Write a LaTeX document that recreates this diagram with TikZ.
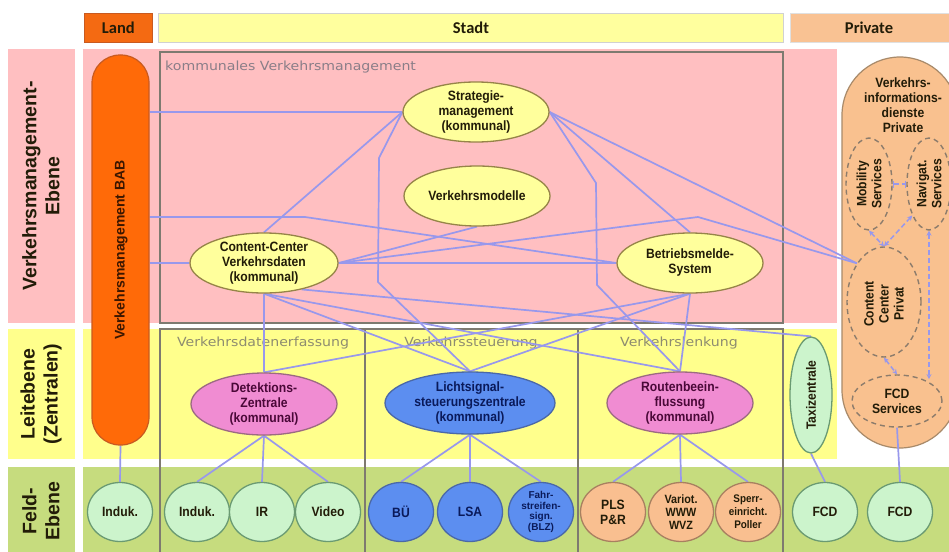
\documentclass[tikz,border=0pt]{standalone}
\usepackage{fontspec}
\setmainfont{Liberation Sans}
\newfontfamily\hdfont{Carlito}
\newfontfamily\nfont[FakeStretch=0.9]{Liberation Sans}
\newfontfamily\nwfont{Liberation Sans}
\newfontfamily\tfont[FakeStretch=1.12]{DejaVu Sans}
\usetikzlibrary{shapes.geometric,arrows.meta}
\pgfdeclarelayer{bg}
\pgfdeclarelayer{lines}
\pgfsetlayers{bg,lines,main}
\definecolor{pinkbg}{HTML}{FFBFC1}
\definecolor{yelbg}{HTML}{FFFF8C}
\definecolor{grnbg}{HTML}{C6DC7E}
\definecolor{landor}{HTML}{F46A12}
\definecolor{stadty}{HTML}{FFFF9E}
\definecolor{privp}{HTML}{F9C293}
\definecolor{babor}{HTML}{FF6A08}
\definecolor{babbd}{HTML}{C85A20}
\definecolor{ellyel}{HTML}{FFFF9C}
\definecolor{ellbd}{HTML}{968448}
\definecolor{ellpink}{HTML}{F08CD2}
\definecolor{pinkbd}{HTML}{9C6A82}
\definecolor{ellblue}{HTML}{5C8EF0}
\definecolor{bluebd}{HTML}{4A68A8}
\definecolor{cgreen}{HTML}{CCF4CC}
\definecolor{greenbd}{HTML}{6A9A72}
\definecolor{cpeach}{HTML}{F9BF90}
\definecolor{peachbd}{HTML}{A88060}
\definecolor{privfill}{HTML}{F9C18F}
\definecolor{privbd}{HTML}{A88A6A}
\definecolor{connc}{HTML}{9898EC}
\definecolor{boxbd}{HTML}{7E7A70}
\definecolor{ttlgray}{HTML}{8A7E88}
\definecolor{ttlolive}{HTML}{8E8C70}
\definecolor{dashbd}{HTML}{8C7C6C}
\definecolor{txtdark}{HTML}{221C08}
\definecolor{txtpink}{HTML}{4A0838}
\definecolor{txtblue}{HTML}{0A1A5A}
\definecolor{babtxt}{HTML}{3A1600}
\begin{document}
\begin{tikzpicture}[x=1pt,y=-1pt,
  conn/.style={draw=connc, line width=1.7pt},
  pconn/.style={draw=connc, line width=1.5pt, dash pattern=on 5pt off 3pt},
  hdr/.style={anchor=north west, inner sep=0pt, line width=0.8pt,
    font=\hdfont\bfseries\fontsize{16.5}{18}\selectfont, text=txtdark},
  colbox/.style={draw=boxbd, line width=1.8pt},
  ttl/.style={font=\tfont\fontsize{12.6}{14}\selectfont, text=ttlolive, inner sep=0pt},
  side/.style={rotate=90, align=center, inner sep=0pt,
    font=\nwfont\bfseries\fontsize{19.5}{23}\selectfont, text=txtdark},
  ellbase/.style={ellipse, line width=1.3pt, inner sep=0pt},
  yell/.style={ellbase, fill=ellyel, draw=ellbd, minimum width=146pt, minimum height=60pt},
  pell/.style={ellbase, fill=ellpink, draw=pinkbd, minimum width=146pt, minimum height=62pt},
  bell/.style={ellbase, fill=ellblue, draw=bluebd, minimum width=170pt, minimum height=62pt},
  gcirc/.style={ellbase, fill=cgreen, draw=greenbd, minimum width=65pt, minimum height=59pt},
  bcirc/.style={ellbase, fill=ellblue, draw=bluebd, minimum width=65pt, minimum height=59pt},
  ocirc/.style={ellbase, fill=cpeach, draw=peachbd, minimum width=65pt, minimum height=59pt},
  dell/.style={ellbase, draw=dashbd, line width=1.4pt, dash pattern=on 5pt off 4pt},
  ntxt/.style={font=\nfont\bfseries\fontsize{13.5}{15}\selectfont, align=center, text=txtdark, inner sep=0pt},
  ptxt/.style={ntxt, text=txtpink},
  btxt/.style={ntxt, text=txtblue},
  dtip/.style={{Stealth[length=5pt,width=5pt]}-{Stealth[length=5pt,width=5pt]}}
]
\clip (0,0) rectangle (949,551);
\useasboundingbox (0,0) rectangle (949,551);

\begin{pgfonlayer}{bg}
  \fill[white] (0,0) rectangle (949,551);
  \fill[pinkbg] (8,49) rectangle (75,323);
  \fill[pinkbg] (83,49) rectangle (837,323);
  \fill[yelbg] (8,329) rectangle (75,459);
  \fill[yelbg] (83,329) rectangle (837,459);
  \fill[grnbg] (8,467) rectangle (75,560);
  \fill[grnbg] (83,467) rectangle (960,560);
  \draw[colbox] (160,52) rectangle (783,323);
  \draw[colbox] (160,329) rectangle (365,556);
  \draw[colbox] (365,329) rectangle (578,556);
  \draw[colbox] (578,329) rectangle (783,556);
  \node (tkom) [ttl, text=ttlgray, anchor=west] at (165,67) {kommunales Verkehrsmanagement};
  \node (tdat) [ttl] at (263,343) {Verkehrsdatenerfassung};
  \node (tste) [ttl] at (471,343) {Verkehrssteuerung};
  \node (tlen) [ttl] at (679,343) {Verkehrslenkung};
  % private shape (under the connectors)
  \node (priv) [draw=privbd, fill=privfill, line width=1.2pt, rounded corners=58pt, minimum width=116pt, minimum height=391pt] at (900,252.5) {};
\end{pgfonlayer}

% headers
\node (hland) [hdr, fill=landor, draw=babbd, minimum width=68pt, minimum height=29pt] at (84,13) {Land};
\node (hstadt) [hdr, fill=stadty, draw=black!18, minimum width=625pt, minimum height=29pt] at (158,13) {Stadt};
\node (hpriv) [hdr, fill=privp, draw=black!12, minimum width=170pt, minimum height=29pt] at (790,13) {};
\node (hprivt) [font=\hdfont\bfseries\fontsize{16.5}{18}\selectfont, text=txtdark, inner sep=0pt] at (869,27.5) {Private};

% side labels
\node (s1) [side] at (41,186) {Verkehrsmanagement-\\Ebene};
\node (s2) [side] at (41,394) {Leitebene\\(Zentralen)};
\node (s3) [side] at (41,511) {Feld-\\Ebene};

% BAB bar
\node (bab) [draw=babbd, fill=babor, line width=1.2pt, rounded corners=28pt, minimum width=57pt, minimum height=390pt] at (120.5,250) {};
\node (babt) [rotate=90, font=\nwfont\bfseries\fontsize{14}{16}\selectfont, text=babtxt, inner sep=0pt] at (121,250) {Verkehrsmanagement BAB};

% private inner elements
\node (privt) [ntxt] at (903,105) {Verkehrs-\\informations-\\dienste\\Private};
\node (mob) [dell, minimum width=46pt, minimum height=92pt] at (869,184) {};
\node (mobt) [ntxt, rotate=90] at (869,184) {Mobility\\Services};
\node (nav) [dell, minimum width=44pt, minimum height=92pt] at (929,184) {};
\node (navt) [ntxt, rotate=90] at (929,184) {Navigat.\\Services};
\node (ccp) [dell, minimum width=74pt, minimum height=110pt] at (884,302) {};
\node (ccpt) [ntxt, rotate=90] at (884,304) {Content\\Center\\Privat};
\node (fcds) [dell, minimum width=90pt, minimum height=52pt] at (897,401) {};
\node (fcdst) [ntxt] at (897,401) {FCD\\Services};

% management level
\node (strat) [yell, label={[ntxt]center:{Strategie-\\management\\(kommunal)}}] at (476,112) {};
\node (vm) [yell, label={[ntxt]center:{Verkehrsmodelle}}] at (477,196) {};
\node (cc) [yell, minimum width=148pt, label={[ntxt]center:{Content-Center\\Verkehrsdaten\\(kommunal)}}] at (264,263) {};
\node (betr) [yell, label={[ntxt]center:{Betriebsmelde-\\System}}] at (690,263) {};

% control level
\node (det) [pell, label={[ptxt]center:{Detektions-\\Zentrale\\(kommunal)}}] at (264,404) {};
\node (lsz) [bell, label={[btxt]center:{Lichtsignal-\\steuerungszentrale\\(kommunal)}}] at (470,403) {};
\node (rout) [pell, label={[ptxt]center:{Routenbeein-\\flussung\\(kommunal)}}] at (680,403) {};
\node (taxi) [ellbase, fill=cgreen, draw=greenbd, minimum width=42pt, minimum height=116pt] at (811,395) {};
\node (taxit) [ntxt, rotate=90] at (811,395) {Taxizentrale};

% field level
\node (ind0) [gcirc, label={[ntxt]center:{Induk.}}] at (120,512) {};
\node (ind1) [gcirc, label={[ntxt]center:{Induk.}}] at (197,512) {};
\node (ir) [gcirc, label={[ntxt]center:{IR}}] at (262,512) {};
\node (video) [gcirc, label={[ntxt]center:{Video}}] at (328,512) {};
\node (bu) [bcirc, label={[btxt]center:{BÜ}}] at (401,512) {};
\node (lsa) [bcirc, label={[btxt]center:{LSA}}] at (470,512) {};
\node (fahr) [bcirc, label={[btxt, font=\nwfont\bfseries\fontsize{10}{10.5}\selectfont]center:{Fahr-\\streifen-\\sign.\\(BLZ)}}] at (541,512) {};
\node (pls) [ocirc, label={[ntxt]center:{PLS\\P\&R}}] at (613,512) {};
\node (vario) [ocirc, label={[ntxt, font=\nfont\bfseries\fontsize{12}{13}\selectfont]center:{Variot.\\WWW\\WVZ}}] at (681,512) {};
\node (sperr) [ocirc, label={[ntxt, font=\nfont\bfseries\fontsize{11}{13}\selectfont]center:{Sperr-\\einricht.\\Poller}}] at (748,512) {};
\node (fcd1) [gcirc, label={[ntxt]center:{FCD}}] at (825,512) {};
\node (fcd2) [gcirc, label={[ntxt]center:{FCD}}] at (900,512) {};

\begin{pgfonlayer}{lines}
  \coordinate (k1) at (305,217);
  \coordinate (k2) at (379,158);
  \coordinate (k3) at (378,282);
  \coordinate (k4) at (596,183);
  \coordinate (k5) at (597,285);
  \coordinate (k6) at (698,217);
  \draw[conn] (bab.east |- strat.west) -- (strat.west);
  \draw[conn] (bab.east |- k1) -- (k1) -- (betr.west);
  \draw[conn] (bab.east |- cc.west) -- (cc.west);
  \draw[conn] (cc.north) -- (strat.west);
  \draw[conn] (strat.west) -- (k2) -- (k3) -- (lsz.north);
  \draw[conn] (strat.east) -- (k4) -- (k5) -- (rout.north);
  \draw[conn] (strat.east) -- (betr.north);
  \draw[conn] (strat.east) -- (ccp.125);
  \draw[conn] (cc.east) -- (k6) -- (ccp.125);
  \draw[conn] (cc.east) -- (vm.south);
  \draw[conn] (cc.east) -- (betr.west);
  \draw[conn] (cc.south) -- (det.north);
  \draw[conn] (cc.south) -- (lsz.north);
  \draw[conn] (cc.south) -- (rout.north);
  \draw[conn] (cc.-35) -- (taxi.north);
  \draw[conn] (betr.south) -- (rout.north);
  \draw[conn] (betr.south) -- (lsz.north);
  \draw[conn] (betr.south) -- (det.north);
  \draw[conn] (bab.south) -- (ind0.north);
  \draw[conn] (det.south) -- (ind1.north);
  \draw[conn] (det.south) -- (ir.north);
  \draw[conn] (det.south) -- (video.north);
  \draw[conn] (lsz.south) -- (bu.north);
  \draw[conn] (lsz.south) -- (lsa.north);
  \draw[conn] (lsz.south) -- (fahr.north);
  \draw[conn] (rout.south) -- (pls.north);
  \draw[conn] (rout.south) -- (vario.north);
  \draw[conn] (rout.south) -- (sperr.north);
  \draw[conn] (taxi.south) -- (fcd1.north);
  \draw[conn] (fcds.south) -- (fcd2.north);
\end{pgfonlayer}
% private dashed links
\draw[pconn, {Bar[width=7pt]}-{Bar[width=7pt]}] (mob.east) -- (nav.west);
\draw[pconn, dtip] (mob.south) -- (ccp.north);
\draw[pconn, dtip] (nav.-118) -- (ccp.north);
\draw[pconn, dtip] (nav.south) -- (nav.south |- fcds.40);
\draw[pconn, dtip] (ccp.south) -- (fcds.north);
\end{tikzpicture}
\end{document}
